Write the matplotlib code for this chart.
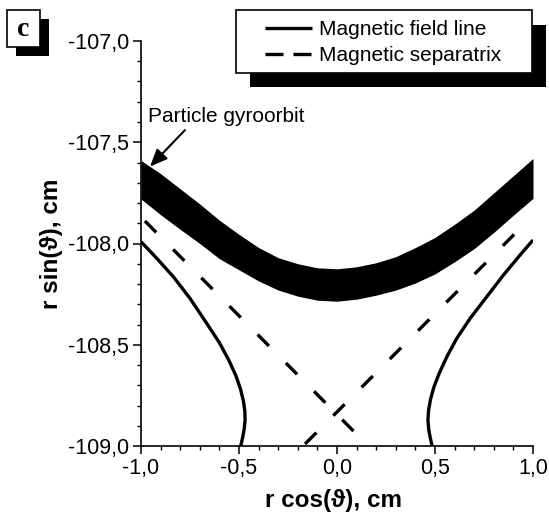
import matplotlib
matplotlib.use("Agg")
import matplotlib.pyplot as plt
from matplotlib.patches import Rectangle
from matplotlib.ticker import FixedLocator, MultipleLocator

plt.rcParams['font.family'] = ['Liberation Sans', 'DejaVu Sans']

# gyroorbit band (upper and lower edge)
orbit_x = [-1.0, -0.9, -0.8, -0.7, -0.6, -0.5, -0.4, -0.3, -0.2, -0.1, 0.0,
           0.1, 0.2, 0.3, 0.4, 0.5, 0.6, 0.7, 0.8, 0.9, 1.0]
orbit_top = [-107.59, -107.655, -107.73, -107.805, -107.885, -107.955, -108.02,
             -108.07, -108.10, -108.12, -108.125, -108.115, -108.095, -108.065,
             -108.02, -107.97, -107.905, -107.835, -107.75, -107.665, -107.58]
orbit_bot = [-107.78, -107.858, -107.93, -108.00, -108.075, -108.13, -108.185,
             -108.23, -108.26, -108.28, -108.285, -108.275, -108.255, -108.23,
             -108.195, -108.15, -108.09, -108.025, -107.945, -107.86, -107.777]

# magnetic field line, two branches
field_left_x = [-1.0, -0.92, -0.835, -0.75, -0.665, -0.6, -0.55, -0.515,
                -0.492, -0.477, -0.47, -0.469, -0.474, -0.482, -0.491]
field_left_y = [-107.991, -108.073, -108.164, -108.271, -108.394, -108.49,
                -108.58, -108.655, -108.72, -108.78, -108.83, -108.872,
                -108.92, -108.96, -109.0]
field_right_x = [1.0, 0.934, 0.849, 0.764, 0.679, 0.61, 0.56, 0.522,
                 0.494, 0.477, 0.467, 0.464, 0.468, 0.476, 0.485]
field_right_y = [-107.983, -108.057, -108.156, -108.263, -108.37, -108.47,
                 -108.56, -108.64, -108.71, -108.77, -108.825, -108.872,
                 -108.92, -108.96, -109.0]

# separatrix
sep_a_x = [-0.98, 0.092]
sep_a_y = [-107.889, -108.934]
sep_b_x = [-0.163, 0.94]
sep_b_y = [-108.99, -107.92]

x_ticks = [-1.0, -0.5, 0.0, 0.5, 1.0]
x_labels = ['-1,0', '-0,5', '0,0', '0,5', '1,0']
y_ticks = [-109.0, -108.5, -108.0, -107.5, -107.0]
y_labels = ['-109,0', '-108,5', '-108,0', '-107,5', '-107,0']

W, H = 549, 517
fig = plt.figure(figsize=(W / 100, H / 100), dpi=100)
ax = fig.add_axes([141 / W, 1 - 446 / H, 392 / W, 405 / H])

ax.fill_between(orbit_x, orbit_top, orbit_bot, color='black', lw=0)
ax.plot(field_left_x, field_left_y, color='black', lw=2.4,
        label='Magnetic field line', solid_capstyle='butt')
ax.plot(field_right_x, field_right_y, color='black', lw=2.4,
        solid_capstyle='butt')
ax.plot(sep_a_x, sep_a_y, color='black', lw=2.4, dashes=(4.8, 7.2),
        label='Magnetic separatrix')
ax.plot(sep_b_x, sep_b_y, color='black', lw=2.4, dashes=(4.8, 7.2))

ax.set_xlim(-1.0, 1.0)
ax.set_ylim(-109.0, -107.0)
for s in ['top', 'right']:
    ax.spines[s].set_visible(False)
for s in ['left', 'bottom']:
    ax.spines[s].set_linewidth(1.2)

ax.xaxis.set_major_locator(FixedLocator(x_ticks))
ax.set_xticklabels(x_labels)
ax.yaxis.set_major_locator(FixedLocator(y_ticks))
ax.set_yticklabels(y_labels)
ax.xaxis.set_minor_locator(MultipleLocator(0.1))
ax.yaxis.set_minor_locator(MultipleLocator(0.1))
ax.tick_params(which='major', direction='out', length=5.5, width=1.1,
               labelsize=15.5, pad=3)
ax.tick_params(which='minor', direction='out', length=3, width=1.0)

ax.set_xlabel('r cos(\u03d1), cm', fontsize=17.5, fontweight='bold')
ax.set_ylabel('r sin(\u03d1), cm', fontsize=17.5, fontweight='bold')
ax.xaxis.set_label_coords(0.49, -0.105)
ax.yaxis.set_label_coords(-0.2, 0.5)

ax.annotate('', xy=(-0.954, -107.62), xytext=(-0.776, -107.44),
            arrowprops=dict(arrowstyle='-|>,head_length=0.7,head_width=0.3',
                            color='black', lw=1.5, mutation_scale=15,
                            shrinkA=0, shrinkB=0))
ax.text(-0.964, -107.40, 'Particle gyroorbit', fontsize=15,
        ha='left', va='baseline')

# legend box with shadow
fig.add_artist(Rectangle((250 / W, 1 - 87 / H), 296 / W, 62.5 / H,
                         transform=fig.transFigure, facecolor='black',
                         edgecolor='none', zorder=3))
fig.add_artist(Rectangle((236 / W, 1 - 72.5 / H), 296 / W, 62.5 / H,
                         transform=fig.transFigure, facecolor='white',
                         edgecolor='black', lw=1.2, zorder=4))
handles, labels = ax.get_legend_handles_labels()
leg = fig.legend(handles, labels, loc='center left',
                 bbox_to_anchor=(265 / W, 1 - 42.5 / H), frameon=False,
                 borderpad=0, borderaxespad=0, handlelength=2.25,
                 handletextpad=0.35, labelspacing=0.35, fontsize=15)
leg.set_zorder(5)
leg.get_lines()[1].set_dashes((5.4, 3.0))

# panel letter
fig.add_artist(Rectangle((16 / W, 1 - 56 / H), 33 / W, 37 / H,
                         transform=fig.transFigure, facecolor='black',
                         edgecolor='none', zorder=3))
fig.add_artist(Rectangle((7 / W, 1 - 47 / H), 33 / W, 37 / H,
                         transform=fig.transFigure, facecolor='white',
                         edgecolor='black', lw=1.2, zorder=4))
fig.text(23.5 / W, 1 - 29 / H, 'c', fontsize=20, fontweight='bold',
         family='Liberation Serif', ha='center', va='center', zorder=5)

fig.savefig('out.png', dpi=100, facecolor='white')
